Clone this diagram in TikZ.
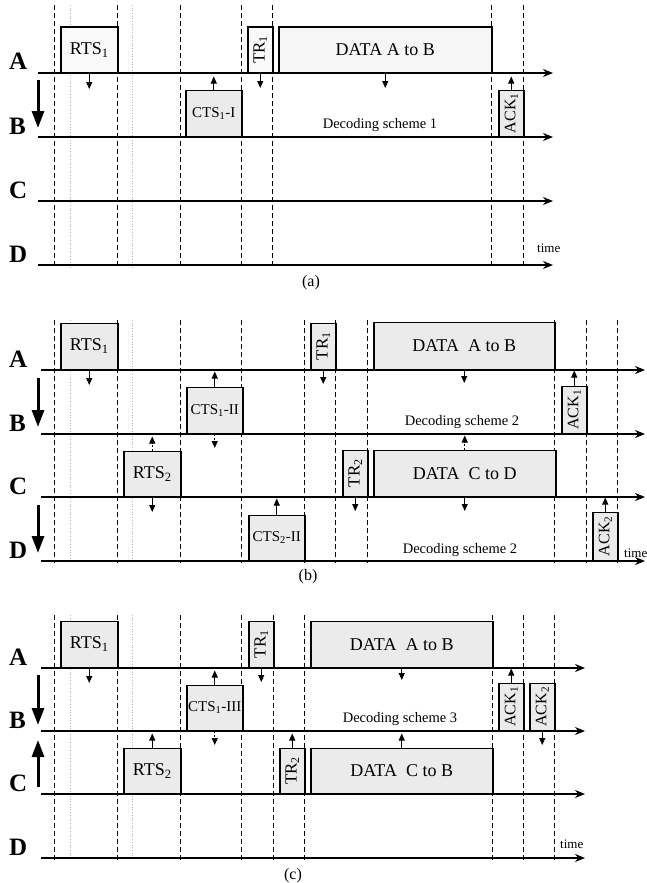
\documentclass[tikz,border=0pt]{standalone}
\usepackage{fontspec}
\setmainfont{Liberation Serif}
\usetikzlibrary{arrows.meta, positioning}

\newcommand{\sbs}[1]{\textsubscript{#1}}

\begin{document}
\begin{tikzpicture}[
  x={(1pt,0)}, y={(0,-1pt)},
  lane/.style={line width=1.3pt, -{Stealth[length=10pt, width=8pt]}},
  slot/.style={line width=0.8pt, dash pattern=on 5pt off 3pt},
  guide/.style={line width=0.7pt, gray!60, dotted},
  who/.style={anchor=base west, inner sep=0pt, font=\fontsize{25}{25}\selectfont\bfseries},
  pkt/.style={rectangle, draw, line width=1.5pt, fill=gray!16, inner sep=0pt, anchor=south west, font=\fontsize{18}{18}\selectfont},
  ctl/.style={pkt, font=\fontsize{15}{15}\selectfont},
  tiny/.style={pkt, rotate=90, anchor=north west, font=\fontsize{16}{16}\selectfont},
  sig/.style={line width=1pt, -{Triangle[length=7pt, width=6pt]}},
  hear/.style={sig, dash pattern=on 2pt off 1.5pt},
  dir/.style={line width=3pt, -{Triangle[length=17pt, width=12pt]}},
  note/.style={anchor=base, inner sep=0pt, font=\fontsize{14.5}{14.5}\selectfont},
  timetag/.style={anchor=base west, inner sep=0pt, font=\fontsize{13}{13}\selectfont},
  panelcap/.style={inner sep=0pt, font=\fontsize{16}{16}\selectfont},
]
  \useasboundingbox (0,0) rectangle (647,883);

  % ---------------- (a) ----------------
  \foreach \x in {54,117,180,241,272,491,523} \draw[slot] (\x,5) -- (\x,268);
  \foreach \x in {70,132} \draw[guide] (\x,5) -- (\x,268);
  \foreach \n/\y in {A/73,B/137,C/201,D/265}{
    \node[who] (a\n) at (9,\y-3) {\n};
    \draw[lane] (38,\y) -- (553,\y);
  }
  \draw[dir] (38,80) -- (38,128);

  \node[pkt, fill=gray!5, minimum width=57pt, minimum height=45pt] (aRTS) at (60,73) {RTS\sbs{1}};
  \node[ctl, minimum width=56pt, minimum height=46pt] (aCTS) at (185,137) {CTS\sbs{1}-I};
  \node[tiny, fill=gray!5, minimum width=45pt, minimum height=25pt, font=\fontsize{17}{17}\selectfont] (aTR) at (247,73) {TR\sbs{1}};
  \node[pkt, fill=gray!7, minimum width=213pt, minimum height=45pt] (aDATA) at (278,73) {DATA A to B};
  \node[tiny, minimum width=46pt, minimum height=25pt] (aACK) at (498,137) {ACK\sbs{1}};

  \draw[sig] (aRTS.south) -- ++(0,16);
  \draw[sig] (aCTS.north) -- ++(0,-13);
  \draw[sig] (aTR.west) -- ++(0,15);
  \draw[sig] (aDATA.south) -- ++(0,15);
  \draw[sig] (aACK.east) -- ++(0,-13);

  \node[note] (aDec) at (380,128) {Decoding scheme 1};
  \node[timetag] (aTime) at (537,252) {time};
  \node[panelcap] (aCap) at (311,283) {(a)};

  % ---------------- (b) ----------------
  \foreach \x in {54,117,180,241,304,335,367,554,586,617} \draw[slot] (\x,320) -- (\x,563);
  \foreach \x in {70,132} \draw[guide] (\x,320) -- (\x,563);
  \foreach \n/\y in {A/370,B/434,C/497,D/561}{
    \node[who] (b\n) at (9,\y-3) {\n};
    \draw[lane] (41,\y) -- (645,\y);
  }
  \draw[dir] (38,378) -- (38,427);
  \draw[dir] (38,505) -- (38,553);

  \node[pkt, minimum width=57pt, minimum height=46pt] (bRTSa) at (60,370) {RTS\sbs{1}};
  \node[ctl, minimum width=56pt, minimum height=46pt] (bCTSa) at (186,434) {CTS\sbs{1}-II};
  \node[pkt, minimum width=57pt, minimum height=45pt] (bRTSb) at (123,497) {RTS\sbs{2}};
  \node[ctl, minimum width=56pt, minimum height=45pt] (bCTSb) at (248,561) {CTS\sbs{2}-II};
  \node[tiny, minimum width=46pt, minimum height=25pt, font=\fontsize{17}{17}\selectfont] (bTRa) at (310,370) {TR\sbs{1}};
  \node[tiny, minimum width=46pt, minimum height=25pt, font=\fontsize{17}{17}\selectfont] (bTRb) at (342,497) {TR\sbs{2}};
  \node[pkt, minimum width=181pt, minimum height=47pt] (bDATAa) at (373,370) {DATA\ \ A to B};
  \node[pkt, minimum width=182pt, minimum height=46pt] (bDATAb) at (373,497) {DATA\ \ C to D};
  \node[tiny, minimum width=47pt, minimum height=25pt] (bACKa) at (561,434) {ACK\sbs{1}};
  \node[tiny, minimum width=48pt, minimum height=25pt] (bACKb) at (592,561) {ACK\sbs{2}};

  \draw[sig] (bRTSa.south) -- ++(0,15);
  \draw[sig] (bCTSa.north) -- ++(0,-15);
  \draw[hear] (bCTSa.south) -- ++(0,14);
  \draw[hear] (bRTSb.north) -- ++(0,-14);
  \draw[sig] (bRTSb.south) -- ++(0,15);
  \draw[sig] (bCTSb.north) -- ++(0,-16);
  \draw[sig] (bTRa.west) -- ++(0,14);
  \draw[sig] (bTRb.west) -- ++(0,14);
  \draw[sig] (bDATAa.south) -- ++(0,13);
  \draw[hear] (bDATAb.north) -- ++(0,-14);
  \draw[sig] (bDATAb.south) -- ++(0,14);
  \draw[sig] (bACKa.east) -- ++(0,-15);
  \draw[sig] (bACKb.east) -- ++(0,-14);

  \node[note] (bDecB) at (462,425) {Decoding scheme 2};
  \node[note] (bDecD) at (460,553) {Decoding scheme 2};
  \node[timetag] (bTime) at (624,557) {time};
  \node[panelcap] (bCap) at (308,577) {(b)};

  % ---------------- (c) ----------------
  \foreach \x in {54,117,180,241,273,304,492,523,554} \draw[slot] (\x,615) -- (\x,860);
  \foreach \x in {70,132} \draw[guide] (\x,615) -- (\x,860);
  \foreach \n/\y in {A/668,B/731,C/794,D/858}{
    \node[who] (c\n) at (9,\y-3) {\n};
    \draw[lane] (41,\y) -- (585,\y);
  }
  \draw[dir] (38,675) -- (38,725);
  \draw[dir] (38,787) -- (38,740);

  \node[pkt, minimum width=57pt, minimum height=46pt] (cRTSa) at (60,668) {RTS\sbs{1}};
  \node[tiny, minimum width=46pt, minimum height=25pt, font=\fontsize{17}{17}\selectfont] (cTRa) at (248,668) {TR\sbs{1}};
  \node[pkt, minimum width=182pt, minimum height=46pt] (cDATAa) at (310,668) {DATA\ \ A to B};
  \node[ctl, minimum width=56pt, minimum height=45pt] (cCTS) at (186,731) {CTS\sbs{1}-III};
  \node[pkt, minimum width=57pt, minimum height=45pt] (cRTSb) at (123,794) {RTS\sbs{2}};
  \node[tiny, minimum width=45pt, minimum height=25pt, font=\fontsize{17}{17}\selectfont] (cTRb) at (279,794) {TR\sbs{2}};
  \node[pkt, minimum width=182pt, minimum height=45pt] (cDATAb) at (310,794) {DATA\ \ C to B};
  \node[tiny, minimum width=47pt, minimum height=25pt] (cACKa) at (498,731) {ACK\sbs{1}};
  \node[tiny, minimum width=47pt, minimum height=25pt] (cACKb) at (529,731) {ACK\sbs{2}};

  \draw[sig] (cRTSa.south) -- ++(0,15);
  \draw[sig] (cTRa.west) -- ++(0,14);
  \draw[sig] (cDATAa.south) -- ++(0,12);
  \draw[sig] (cCTS.north) -- ++(0,-14);
  \draw[hear] (cCTS.south) -- ++(0,14);
  \draw[sig] (cRTSb.north) -- ++(0,-14);
  \draw[sig] (cTRb.east) -- ++(0,-14);
  \draw[sig] (cDATAb.north) -- ++(0,-14);
  \draw[sig] (cACKa.east) -- ++(0,-14);
  \draw[sig] (cACKb.west) -- ++(0,14);

  \node[note] (cDec) at (400,722) {Decoding scheme 3};
  \node[timetag] (cTime) at (560,848) {time};
  \node[panelcap] (cCap) at (293,876) {(c)};
\end{tikzpicture}
\end{document}
